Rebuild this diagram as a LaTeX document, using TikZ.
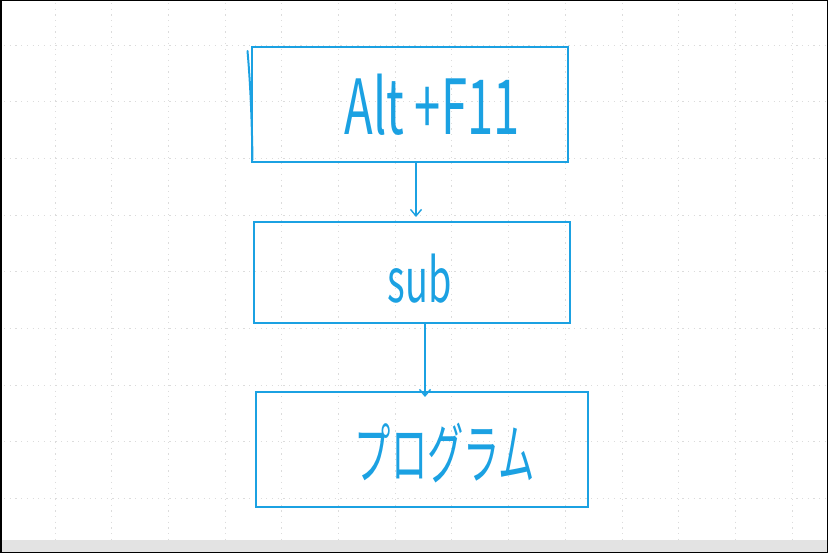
\documentclass[tikz,border=0pt]{standalone}
\usepackage{fontspec}
\usepackage{graphicx}
\newfontfamily\handfont{Noto Sans CJK JP}
\usetikzlibrary{positioning, arrows.meta}
\definecolor{ink}{HTML}{1BA1E2}
\definecolor{gridgray}{HTML}{DCDCDC}
\definecolor{bargray}{HTML}{E3E3E3}
\newcommand{\handtext}[2]{\scalebox{#1}[1]{#2}}

\begin{document}
\begin{tikzpicture}[
            >={Straight Barb[length=6.5pt, width=11pt]},
            x=1pt, y=-1pt,
            % Styles
            gridline/.style={gridgray, line width=0.9pt, dash pattern=on 1.2pt off 4.5pt},
            box/.style={rectangle, draw=ink, line width=1.9pt, inner sep=0pt},
            hand/.style={text=ink, inner sep=0pt},
            flow/.style={->, draw=ink, line width=1.4pt}
          ]
          \useasboundingbox (0,0) rectangle (828,553);
          % 1. Background grid and frame
          \foreach \gx in {0,...,13} {
            \draw[gridline] (55+56.7*\gx, 3) -- (55+56.7*\gx, 540);
          }
          \foreach \gy in {0,...,8} {
            \draw[gridline] (4, 45+56.7*\gy) -- (826, 45+56.7*\gy);
          }
          \fill[bargray] (0,540) rectangle (828,553);
          \draw[black, line width=1.5pt] (0.75,0.75) rectangle (827.25,552.25);
          % 2. Boxes
          \node[box, minimum width=316pt, minimum height=115pt] (box1) at (410,104.5) {};
          \node[box, minimum width=316pt, minimum height=101pt] (box2) at (412,272.5) {};
          \node[box, minimum width=332pt, minimum height=115pt] (box3) at (422,449.5) {};
          % 3. Handwritten labels
          \node[hand, font=\handfont\fontsize{76}{76}\selectfont] (keys) at (432,105) {\handtext{0.62}{Alt +F11}};
          \node[hand, font=\handfont\fontsize{61}{61}\selectfont] (sub) at (420,279) {\handtext{0.62}{sub}};
          \node[hand, font=\handfont\fontsize{66}{66}\selectfont] (prog) at (445,453) {\handtext{0.55}{プログラム}};
          % stray pen stroke on the left edge of the first box
          \draw[ink, line width=2pt, line cap=round] (247.5,51) .. controls (251,90) and (252,130) .. (252.5,160);
          % --- Connections ---
          \coordinate (tip1) at (416,217);
          \coordinate (tip2) at (425,397);
          \draw[flow] (box1.south -| tip1) -- (tip1);
          \draw[flow] (box2.south -| tip2) -- (tip2);
        \end{tikzpicture}
\end{document}
